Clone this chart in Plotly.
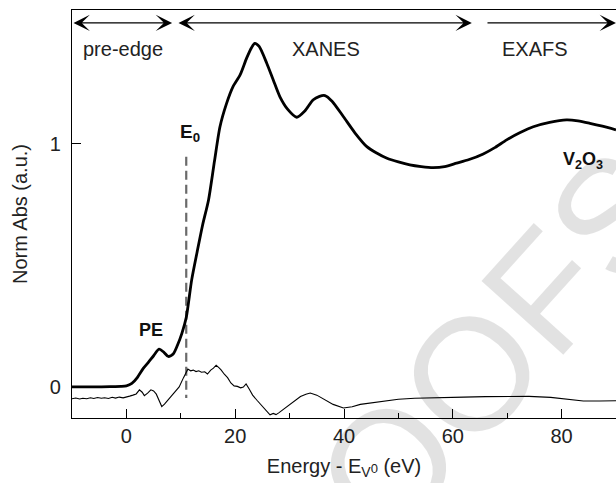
import plotly.graph_objects as go

# Main normalized absorption spectrum (V2O3)
energy_main = [-10, -6, -3, -1, 0, 1, 2, 3.1, 4, 5, 6.0, 6.9, 7.7, 8.6, 9.4, 10.2, 11.0, 12.0,
               13.0, 14.0, 15.1, 16.2, 17.2, 18.4, 19.6, 20.9, 22.1, 23.0, 23.6, 24.4, 25.8,
               27.0, 28.2, 29.7, 31.3, 32.8, 34.3, 35.5, 36.5, 37.8, 39.9, 42.0, 44.2, 46.0,
               47.9, 50.0, 52.1, 54.2, 56.4, 58.5, 60.7, 63.0, 65.6, 67.8, 69.9, 72.3, 74.8,
               77.8, 80.9, 83.0, 85.2, 87.5, 90]
absorb_main = [0.000, 0.000, 0.001, 0.002, 0.004, 0.014, 0.038, 0.076, 0.100, 0.128, 0.155,
               0.142, 0.125, 0.135, 0.172, 0.220, 0.285, 0.440, 0.555, 0.665, 0.769, 0.930,
               1.070, 1.165, 1.235, 1.283, 1.352, 1.395, 1.413, 1.400, 1.331, 1.262, 1.194,
               1.140, 1.109, 1.135, 1.180, 1.195, 1.198, 1.175, 1.111, 1.045, 0.988, 0.962,
               0.940, 0.925, 0.913, 0.906, 0.902, 0.906, 0.920, 0.935, 0.958, 0.985, 1.016,
               1.045, 1.070, 1.088, 1.098, 1.094, 1.084, 1.072, 1.057]

# Thin (difference) curve
energy_diff = [-10, -9.3, -8.6, -8, -7.3, -6.6, -6, -5.3, -4.6, -4, -3.3, -2.6, -2, -1.3, -0.6,
               0, 0.6, 1.2, 1.8, 2.4, 2.9, 3.3, 3.9, 4.5, 5.0, 5.5, 6.0, 6.5, 7.0, 7.9, 8.8,
               9.7, 10.5, 11.3, 11.8, 12.3, 12.8, 13.3, 13.8, 14.4, 14.9, 15.5, 16.0, 16.5,
               17.0, 17.4, 18.0, 18.6, 19.2, 19.8, 20.4, 21.0, 21.5, 22.0, 22.6, 23.2, 24.0,
               25.0, 25.8, 26.4, 27.0, 27.5, 28.0, 29.0, 29.9, 31.0, 32.0, 33.0, 33.8, 35.0,
               36.6, 38.0, 39.9, 41.5, 43.0, 46.0, 48.0, 50.0, 53.0, 56.0, 59.5, 62.0, 66.0,
               70.5, 74.0, 78.0, 80.0, 82.0, 84.0, 87.0, 90.0]
absorb_diff = [-0.049, -0.046, -0.050, -0.047, -0.049, -0.045, -0.048, -0.044, -0.047, -0.045,
               -0.048, -0.043, -0.046, -0.042, -0.045, -0.043, -0.038, -0.034, -0.029, -0.012,
               -0.022, -0.036, -0.026, -0.012, -0.017, -0.030, -0.055, -0.081, -0.071, -0.047,
               -0.024, 0.000, 0.038, 0.073, 0.066, 0.069, 0.063, 0.066, 0.060, 0.062, 0.053,
               0.069, 0.077, 0.089, 0.079, 0.070, 0.052, 0.038, 0.016, 0.004, 0.002, -0.004,
               -0.001, 0.012, -0.010, -0.034, -0.055, -0.081, -0.100, -0.115, -0.109, -0.114,
               -0.107, -0.090, -0.075, -0.055, -0.040, -0.030, -0.025, -0.034, -0.053, -0.072,
               -0.087, -0.082, -0.072, -0.062, -0.055, -0.051, -0.047, -0.045, -0.041, -0.042,
               -0.040, -0.038, -0.039, -0.043, -0.047, -0.053, -0.058, -0.058, -0.057]

# E0 marker
e0_energy = [11.0, 11.0]
e0_span = [0.946, -0.046]

# Region arrows (start, end) and labels
region_names = ["pre-edge", "XANES", "EXAFS"]
region_starts = [-10, 9.3, 66.1]
region_ends = [8.4, 63.5, 90]
region_label_x = [-0.6, 36.7, 75.1]
arrow_y = 1.497
label_y = 1.39

x_ticks = [0, 20, 40, 60, 80]
y_ticks = [0, 1]

FONT = "Liberation Sans, Arial, Helvetica, sans-serif"

fig = go.Figure()
fig.add_trace(go.Scatter(x=e0_energy, y=e0_span, mode="lines",
                         line=dict(color="#6a6a6a", width=2.2, dash="9px,5px"),
                         hoverinfo="skip", showlegend=False))
fig.add_trace(go.Scatter(x=energy_diff, y=absorb_diff, mode="lines",
                         line=dict(color="black", width=1.1),
                         showlegend=False))
fig.add_trace(go.Scatter(x=energy_main, y=absorb_main, mode="lines",
                         line=dict(color="black", width=2.8, shape="spline", smoothing=0.7),
                         showlegend=False))

annotations = []
# watermark
annotations.append(dict(text="PROOFS", xref="paper", yref="paper", x=0.647, y=-0.02,
                        showarrow=False, textangle=-48,
                        font=dict(family=FONT, size=160, color="rgba(0,0,0,0.115)"),
                        xanchor="center", yanchor="middle"))
for name, s, e, lx in zip(region_names, region_starts, region_ends, region_label_x):
    double = name != "EXAFS"
    annotations.append(dict(x=e, y=arrow_y, ax=s, ay=arrow_y, xref="x", yref="y",
                            axref="x", ayref="y", text="", showarrow=True,
                            arrowhead=3, arrowsize=2.1, arrowwidth=1.3, arrowcolor="black",
                            arrowside="end+start" if double else "end",
                            startarrowhead=3, startarrowsize=2.1))
    annotations.append(dict(x=lx, y=label_y, xref="x", yref="y", text=name, showarrow=False,
                            font=dict(family=FONT, size=20, color="#222")))
annotations.append(dict(x=11.6, y=1.044, xref="x", yref="y", text="<b>E<sub>0</sub></b>",
                        showarrow=False, font=dict(family=FONT, size=19, color="#111")))
annotations.append(dict(x=4.5, y=0.234, xref="x", yref="y", text="<b>PE</b>",
                        showarrow=False, font=dict(family=FONT, size=18, color="#111")))
annotations.append(dict(x=83.9, y=0.933, xref="x", yref="y",
                        text="<b>V<sub>2</sub>O<sub>3</sub></b>",
                        showarrow=False, font=dict(family=FONT, size=18, color="#111")))

fig.update_layout(
    width=616, height=483,
    margin=dict(l=72, r=0, t=10, b=65),
    paper_bgcolor="white", plot_bgcolor="white",
    font=dict(family=FONT, size=20, color="#222"),
    annotations=annotations,
    showlegend=False,
)
fig.update_xaxes(range=[-10, 90], tickvals=x_ticks, ticktext=[str(v) for v in x_ticks],
                 ticks="inside", ticklen=9, tickwidth=1.3, tickcolor="black",
                 minor=dict(dtick=10, tick0=0, ticks="inside", ticklen=5, tickwidth=1.3,
                            tickcolor="black"),
                 showline=True, linecolor="black", linewidth=1.3, mirror=True,
                 showgrid=False, zeroline=False,
                 tickfont=dict(family=FONT, size=20, color="#222"),
                 title=dict(text="Energy - E<sub>V</sub><span style='font-size:13px'>0</span> (eV)",
                            font=dict(family=FONT, size=20, color="#222"), standoff=12))
fig.update_yaxes(range=[-0.128, 1.55], tickvals=y_ticks, ticktext=["0", "1"],
                 ticks="inside", ticklen=9, tickwidth=1.3, tickcolor="black",
                 showline=True, linecolor="black", linewidth=1.3, mirror=False,
                 showgrid=False, zeroline=False, ticklabelstandoff=6,
                 tickfont=dict(family=FONT, size=20, color="#222"),
                 title=dict(text="Norm Abs (a.u.)", font=dict(family=FONT, size=20, color="#222"),
                            standoff=16))

fig.write_html("out.html", config={"displayModeBar": False},
               post_script="document.body.style.margin='0px';document.body.style.overflow='hidden';")
